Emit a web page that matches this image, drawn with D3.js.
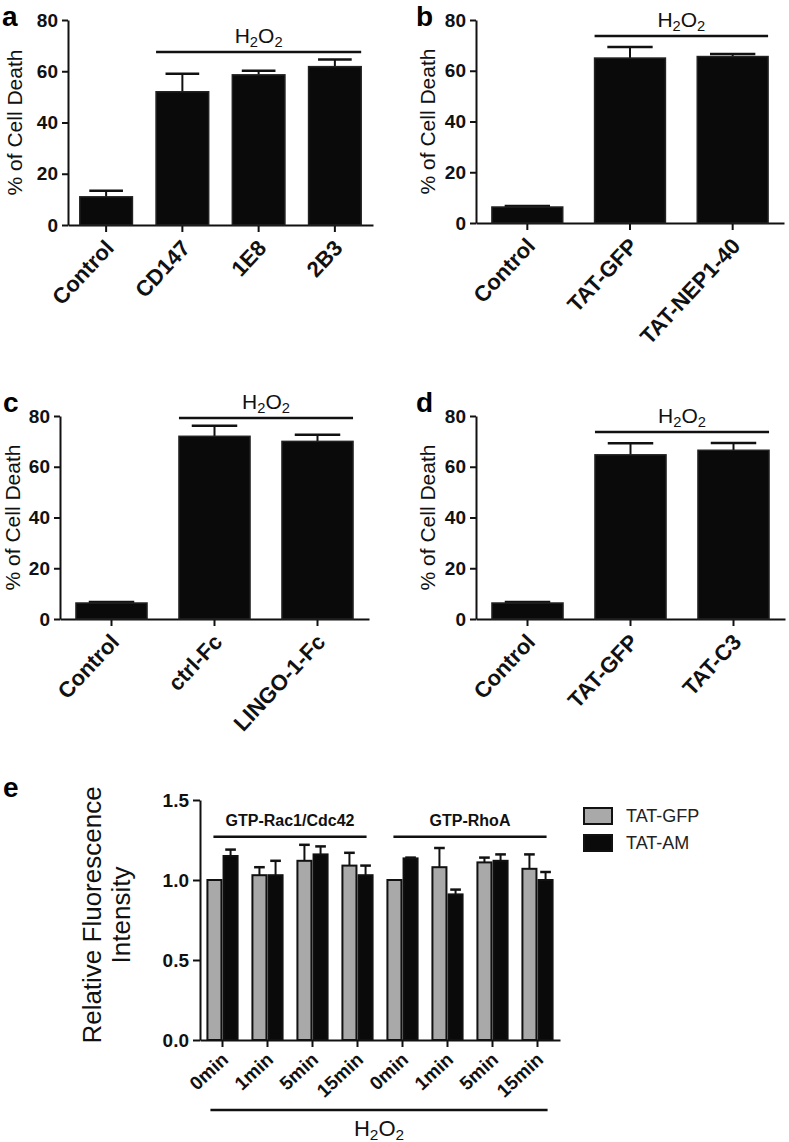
<!DOCTYPE html>
<html>
<head>
<meta charset="utf-8">
<script src="https://cdn.jsdelivr.net/npm/d3@7"></script>
<style>
  body { margin: 0; background: #fff; }
  svg { display: block; font-family: "Liberation Sans", Arial, sans-serif; }
  .axis path, .axis line { stroke: #111; stroke-width: 2; }
  .axis text { fill: #111; font-weight: bold; font-size: 19px; }
</style>
</head>
<body>
<svg id="fig" width="789" height="1142"></svg>
<script>
// panel a
var catsA = ["Control", "CD147", "1E8", "2B3"];
var meanA = [11, 52, 58.6, 61.8];
var errA  = [2.4, 7, 1.6, 2.8];
// panel b
var catsB = ["Control", "TAT-GFP", "TAT-NEP1-40"];
var meanB = [6.3, 65, 65.6];
var errB  = [0.4, 4.4, 1.0];
// panel c
var catsC = ["Control", "ctrl-Fc", "LINGO-1-Fc"];
var meanC = [6.3, 72, 70];
var errC  = [0.4, 4.2, 2.6];
// panel d
var catsD = ["Control", "TAT-GFP", "TAT-C3"];
var meanD = [6.3, 64.7, 66.5];
var errD  = [0.4, 4.6, 2.9];
var yTicks = [0, 20, 40, 60, 80];

// panel e
var timeLabels = ["0min", "1min", "5min", "15min", "0min", "1min", "5min", "15min"];
var gfpMean = [1.0, 1.03, 1.12, 1.09, 1.0, 1.08, 1.11, 1.07];
var gfpErr  = [0, 0.05, 0.1, 0.08, 0, 0.12, 0.03, 0.09];
var amMean  = [1.15, 1.03, 1.16, 1.03, 1.135, 0.91, 1.12, 1.0];
var amErr   = [0.04, 0.09, 0.05, 0.06, 0.005, 0.03, 0.04, 0.05];
var eTicks = [0, 0.5, 1.0, 1.5];
var seriesNames = ["TAT-GFP", "TAT-AM"];
var seriesColors = ["#a9a9a9", "#0a0a0a"];

var svg = d3.select("#fig");

function h2o2(g, x, y, size) {
  var t = g.append("text")
    .attr("x", x).attr("y", y)
    .attr("text-anchor", "middle")
    .style("font-size", size + "px")
    .attr("fill", "#111");
  t.append("tspan").text("H");
  t.append("tspan").attr("dy", 4).style("font-size", (size * 0.7) + "px").text("2");
  t.append("tspan").attr("dy", -4).text("O");
  t.append("tspan").attr("dy", 4).style("font-size", (size * 0.7) + "px").text("2");
}

// simple bar panel (a-d)
function barPanel(p) {
  var g = svg.append("g");
  var x = d3.scaleBand().domain(p.cats).range([p.x0, p.x1])
    .paddingInner(0.31).paddingOuter(0.155);
  var y = d3.scaleLinear().domain([0, 80]).range([p.yBot, p.yTop]);

  g.append("g").attr("class", "axis")
    .attr("transform", "translate(" + p.x0 + ",0)")
    .call(d3.axisLeft(y).tickValues(yTicks).tickSize(6).tickSizeOuter(0).tickPadding(4));

  var xa = g.append("g").attr("class", "axis")
    .attr("transform", "translate(0," + p.yBot + ")")
    .call(d3.axisBottom(x).tickSize(7).tickSizeOuter(0));
  xa.selectAll("text")
    .style("font-size", "22px")
    .style("text-anchor", "end")
    .attr("dy", null)
    .attr("y", 0)
    .attr("transform", function(d) { return "translate(9,24) rotate(-47)"; });

  var data = p.cats.map(function(c, i) { return {c: c, m: p.mean[i], e: p.err[i]}; });

  // error bars
  var bw = x.bandwidth();
  data.forEach(function(d) {
    var cx = x(d.c) + bw / 2;
    g.append("line").attr("x1", cx).attr("x2", cx)
      .attr("y1", y(d.m)).attr("y2", y(d.m + d.e))
      .attr("stroke", "#111").attr("stroke-width", 2);
    g.append("line").attr("x1", cx - bw * 0.32).attr("x2", cx + bw * 0.32)
      .attr("y1", y(d.m + d.e)).attr("y2", y(d.m + d.e))
      .attr("stroke", "#111").attr("stroke-width", 2.5);
  });

  g.selectAll(".bar").data(data).enter().append("rect")
    .attr("class", "bar")
    .attr("x", function(d) { return x(d.c); })
    .attr("y", function(d) { return y(d.m); })
    .attr("width", bw)
    .attr("height", function(d) { return y(0) - y(d.m); })
    .attr("fill", "#0a0a0a")
    .attr("stroke", "#222").attr("stroke-width", 1.5);

  // H2O2 bracket over treated groups
  var bx0 = x(p.cats[1]), bx1 = x(p.cats[p.cats.length - 1]) + bw;
  g.append("line").attr("x1", bx0).attr("x2", bx1)
    .attr("y1", y(p.bracket)).attr("y2", y(p.bracket))
    .attr("stroke", "#111").attr("stroke-width", 2.5);
  h2o2(g, (bx0 + bx1) / 2, y(p.bracket) - 9, 21);

  // y title
  g.append("text")
    .attr("transform", "translate(" + p.titleX + "," + ((p.yTop + p.yBot) / 2) + ") rotate(-90)")
    .attr("text-anchor", "middle")
    .style("font-size", "21px")
    .attr("fill", "#111")
    .text("% of Cell Death");

  // panel letter
  g.append("text").attr("x", p.lx).attr("y", p.ly)
    .style("font-size", "28px").style("font-weight", "bold")
    .text(p.letter);
}

barPanel({cats: catsA, mean: meanA, err: errA, x0: 68, x1: 373, yTop: 20, yBot: 225,
  bracket: 67.5, titleX: 22, letter: "a", lx: 2, ly: 26});
barPanel({cats: catsB, mean: meanB, err: errB, x0: 476, x1: 784, yTop: 20, yBot: 223,
  bracket: 73.7, titleX: 435, letter: "b", lx: 416, ly: 26});
barPanel({cats: catsC, mean: meanC, err: errC, x0: 60, x1: 369, yTop: 416, yBot: 619,
  bracket: 79.2, titleX: 20, letter: "c", lx: 3, ly: 412});
barPanel({cats: catsD, mean: meanD, err: errD, x0: 476, x1: 785, yTop: 416, yBot: 619,
  bracket: 73.7, titleX: 435, letter: "d", lx: 416, ly: 412});

// panel e: grouped bars
(function() {
  var g = svg.append("g");
  var idx = d3.range(timeLabels.length);
  var x = d3.scaleBand().domain(idx).range([200, 560]).paddingInner(0.33).paddingOuter(0.165);
  var xs = d3.scaleBand().domain([0, 1]).range([0, x.bandwidth()]).paddingInner(0.13);
  var y = d3.scaleLinear().domain([0, 1.5]).range([1040, 800]);

  g.append("g").attr("class", "axis")
    .attr("transform", "translate(200,0)")
    .call(d3.axisLeft(y).tickValues(eTicks).tickFormat(d3.format(".1f"))
      .tickSize(7).tickSizeOuter(0).tickPadding(4));

  var xa = g.append("g").attr("class", "axis")
    .attr("transform", "translate(0,1040)")
    .call(d3.axisBottom(x).tickFormat(function(i) { return timeLabels[i]; })
      .tickSize(7).tickSizeOuter(0));
  xa.selectAll("text")
    .style("font-size", "19px")
    .style("text-anchor", "end")
    .attr("dy", null)
    .attr("y", 0)
    .attr("transform", "translate(7,21) rotate(-43)");

  var means = [gfpMean, amMean], errs = [gfpErr, amErr];
  var bw = xs.bandwidth();
  [0, 1].forEach(function(s) {
    idx.forEach(function(i) {
      var bx = x(i) + xs(s);
      var cx = bx + bw / 2;
      if (errs[s][i] > 0) {
        g.append("line").attr("x1", cx).attr("x2", cx)
          .attr("y1", y(means[s][i])).attr("y2", y(means[s][i] + errs[s][i]))
          .attr("stroke", "#111").attr("stroke-width", 2);
        g.append("line").attr("x1", cx - bw * 0.38).attr("x2", cx + bw * 0.38)
          .attr("y1", y(means[s][i] + errs[s][i])).attr("y2", y(means[s][i] + errs[s][i]))
          .attr("stroke", "#111").attr("stroke-width", 2.5);
      }
      g.append("rect")
        .attr("x", bx).attr("y", y(means[s][i]))
        .attr("width", bw).attr("height", y(0) - y(means[s][i]))
        .attr("fill", seriesColors[s])
        .attr("stroke", "#111").attr("stroke-width", 2);
    });
  });

  // group brackets
  var groups = [["GTP-Rac1/Cdc42", 0, 3], ["GTP-RhoA", 4, 7]];
  groups.forEach(function(gr) {
    var a = x(gr[1]) + 6, b = x(gr[2]) + x.bandwidth() - 6;
    g.append("line").attr("x1", a).attr("x2", b)
      .attr("y1", y(1.27)).attr("y2", y(1.27))
      .attr("stroke", "#111").attr("stroke-width", 2.5);
    g.append("text").attr("x", (a + b) / 2).attr("y", y(1.27) - 11)
      .attr("text-anchor", "middle")
      .style("font-size", "16px").style("font-weight", "bold")
      .attr("fill", "#111")
      .text(gr[0]);
  });

  // bottom H2O2 bracket
  var a0 = x(0) + 3, a1 = x(7) + x.bandwidth() - 5;
  g.append("line").attr("x1", a0).attr("x2", a1)
    .attr("y1", 1110).attr("y2", 1110)
    .attr("stroke", "#111").attr("stroke-width", 2.5);
  h2o2(g, (a0 + a1) / 2, 1136, 22);

  // y title (two lines)
  var t = g.append("text")
    .attr("transform", "translate(0,915) rotate(-90)")
    .attr("text-anchor", "middle")
    .style("font-size", "26px")
    .attr("fill", "#111");
  t.append("tspan").attr("x", 0).attr("y", 101).text("Relative Fluorescence");
  t.append("tspan").attr("x", 0).attr("y", 130).text("Intensity");

  g.append("text").attr("x", 3).attr("y", 797)
    .style("font-size", "28px").style("font-weight", "bold")
    .text("e");

  // legend
  var lg = g.append("g").attr("transform", "translate(584,808)");
  seriesNames.forEach(function(n, i) {
    lg.append("rect").attr("x", 0).attr("y", i * 27).attr("width", 28).attr("height", 16)
      .attr("fill", seriesColors[i]).attr("stroke", "#111").attr("stroke-width", 2);
    lg.append("text").attr("x", 42).attr("y", i * 27 + 14)
      .style("font-size", "18px").attr("fill", "#222")
      .text(n);
  });
})();
</script>
</body>
</html>
